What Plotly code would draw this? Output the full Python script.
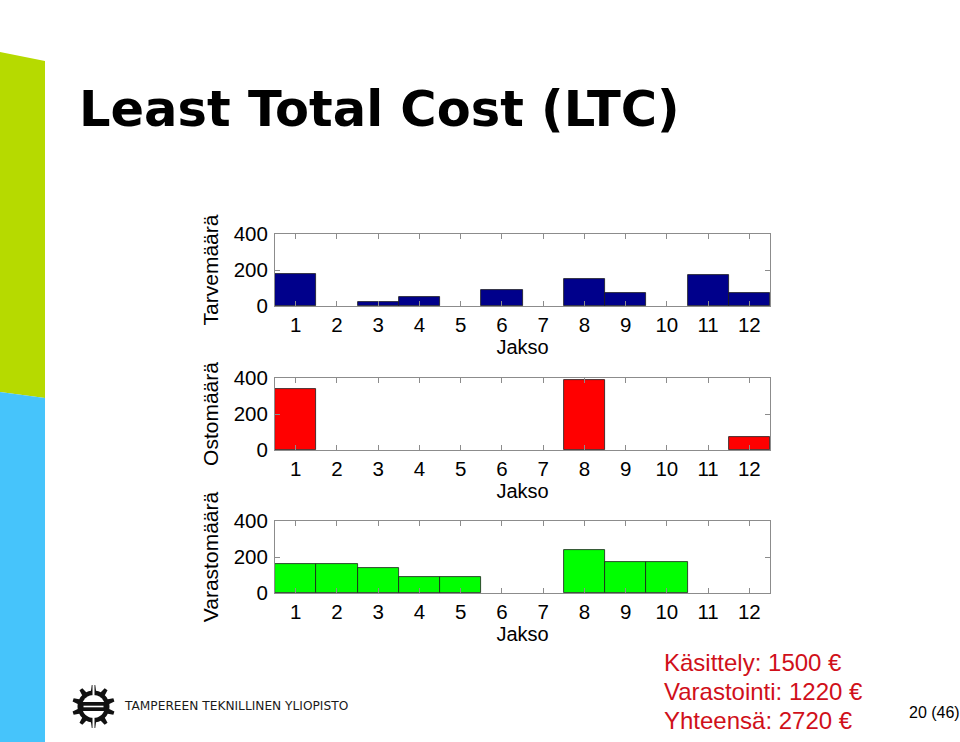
import math
import plotly.graph_objects as go

# ---- data ----
periods = [1, 2, 3, 4, 5, 6, 7, 8, 9, 10, 11, 12]
tarve = [180, 0, 20, 50, 0, 90, 0, 150, 70, 0, 170, 70]      # Tarvemäärä
osto = [340, 0, 0, 0, 0, 0, 0, 390, 0, 0, 0, 70]             # Ostomäärä
varasto = [160, 160, 140, 90, 90, 0, 0, 240, 170, 170, 0, 0]  # Varastomäärä
y_ticks = [0, 200, 400]
y_titles = ["Tarvemäärä", "Ostomäärä", "Varastomäärä"]
x_title = "Jakso"
cost_lines = ["Käsittely: 1500 €", "Varastointi: 1220 €", "Yhteensä: 2720 €"]
title_text = "Least Total Cost (LTC)"
page_text = "20 (46)"
logo_text = "TAMPEREEN TEKNILLINEN YLIOPISTO"

W, H = 960, 742


def px(x):
    return x / W


def py(y):
    return 1 - y / H


series = [tarve, osto, varasto]
colors = ["#00008b", "#ff0000", "#00ff00"]
# plot boxes in pixel coords (top, bottom)
boxes = [(234, 306), (378, 450), (521, 593)]
x0, x1 = 275, 770

fig = go.Figure()
font_family = "Liberation Sans, Arial, sans-serif"

for i, (vals, col, (top, bot), yt) in enumerate(zip(series, colors, boxes, y_titles)):
    n = "" if i == 0 else str(i + 1)
    fig.add_trace(go.Bar(
        x=periods, y=vals, width=1.0,
        marker=dict(color=col, line=dict(color="#1a1a1a",
                                         width=[0.8 if v else 0 for v in vals])),
        xaxis="x" + n, yaxis="y" + n, showlegend=False,
    ))
    axis_common = dict(
        showline=True, linecolor="#8c8c8c", linewidth=1, mirror="ticks",
        ticks="inside", ticklen=5, tickcolor="#8c8c8c", showgrid=False,
        zeroline=False, tickfont=dict(family=font_family, size=20.5, color="#000"),
    )
    fig.layout["xaxis" + n] = dict(
        domain=[px(x0), px(x1)], anchor="y" + n, range=[0.5, 12.5],
        tickmode="array", tickvals=periods, ticktext=[str(p) for p in periods],
        title=dict(text=x_title, font=dict(family=font_family, size=20, color="#000"), standoff=4),
        automargin=False, **axis_common,
    )
    fig.layout["yaxis" + n] = dict(
        domain=[py(bot), py(top)], anchor="x" + n, range=[0, 400],
        tickmode="array", tickvals=y_ticks, ticktext=[str(v) for v in y_ticks],
        ticklabelstandoff=2,
        title=dict(text=yt, font=dict(family=font_family, size=21, color="#000"), standoff=9),
        automargin=False, **axis_common,
    )

annotations = []
annotations.append(dict(
    text="<b>" + title_text + "</b>", x=px(77), y=py(109), xref="paper", yref="paper",
    xanchor="left", yanchor="middle", showarrow=False,
    font=dict(family="DejaVu Sans, sans-serif", size=49.5, color="#000"),
))
for k, line in enumerate(cost_lines):
    annotations.append(dict(
        text=line, x=px(662), y=py(662 + 29 * k), xref="paper", yref="paper",
        xanchor="left", yanchor="middle", showarrow=False,
        font=dict(family=font_family, size=24, color="#d0101a"),
    ))
annotations.append(dict(
    text=page_text, x=px(907), y=py(712), xref="paper", yref="paper",
    xanchor="left", yanchor="middle", showarrow=False,
    font=dict(family=font_family, size=16, color="#000"),
))
annotations.append(dict(
    text=logo_text, x=px(122), y=py(706), xref="paper", yref="paper",
    xanchor="left", yanchor="middle", showarrow=False,
    font=dict(family="DejaVu Sans, sans-serif", size=12.2, color="#1a1a1a"),
))

shapes = []


def poly(points, fill):
    d = "M " + " L ".join(f"{px(a):.5f},{py(b):.5f}" for a, b in points) + " Z"
    return dict(type="path", path=d, xref="paper", yref="paper",
                fillcolor=fill, line=dict(width=0), layer="below")


# left decorative colour bands
shapes.append(poly([(0, 52), (45, 61), (45, 398), (0, 392)], "#b6da00"))
shapes.append(poly([(0, 392), (45, 398), (45, 742), (0, 742)], "#46c4fb"))

# gear logo
cx, cy = 93.5, 706.5
pts = []
nteeth = 10
for t in range(nteeth):
    a0 = 2 * math.pi * t / nteeth + math.pi / nteeth / 2
    for frac, r in [(0.0, 16), (0.12, 21.5), (0.38, 21.5), (0.5, 16)]:
        a = a0 + frac * 2 * math.pi / nteeth
        pts.append((cx + r * math.cos(a), cy + r * math.sin(a)))
    for frac in [0.75]:
        a = a0 + frac * 2 * math.pi / nteeth
        pts.append((cx + 16 * math.cos(a), cy + 16 * math.sin(a)))
shapes.append(poly(pts, "#111111"))
# inner white circle
circ = [(cx + 11.5 * math.cos(2 * math.pi * k / 40), cy + 11.5 * math.sin(2 * math.pi * k / 40)) for k in range(40)]
shapes.append(poly(circ, "#ffffff"))
# black bar
shapes.append(poly([(cx - 13, cy - 4.5), (cx + 13, cy - 4.5), (cx + 13, cy + 4.5), (cx - 13, cy + 4.5)], "#111111"))
shapes.append(poly([(cx - 10, cy - 0.8), (cx + 10, cy - 0.8), (cx + 10, cy + 0.8), (cx - 10, cy + 0.8)], "#ffffff"))
# slits top and bottom
shapes.append(poly([(cx - 1, cy - 23), (cx + 1, cy - 23), (cx + 1, cy - 11), (cx - 1, cy - 11)], "#ffffff"))
shapes.append(poly([(cx - 1, cy + 11), (cx + 1, cy + 11), (cx + 1, cy + 23), (cx - 1, cy + 23)], "#ffffff"))

fig.update_layout(
    width=W, height=H, margin=dict(l=0, r=0, t=0, b=0),
    paper_bgcolor="#ffffff", plot_bgcolor="#ffffff",
    bargap=0, annotations=annotations, shapes=shapes,
    font=dict(family=font_family, color="#000"),
)

fig.write_html("out.html", config={"displayModeBar": False},
               post_script="document.body.style.margin='0';document.body.style.overflow='hidden';")
